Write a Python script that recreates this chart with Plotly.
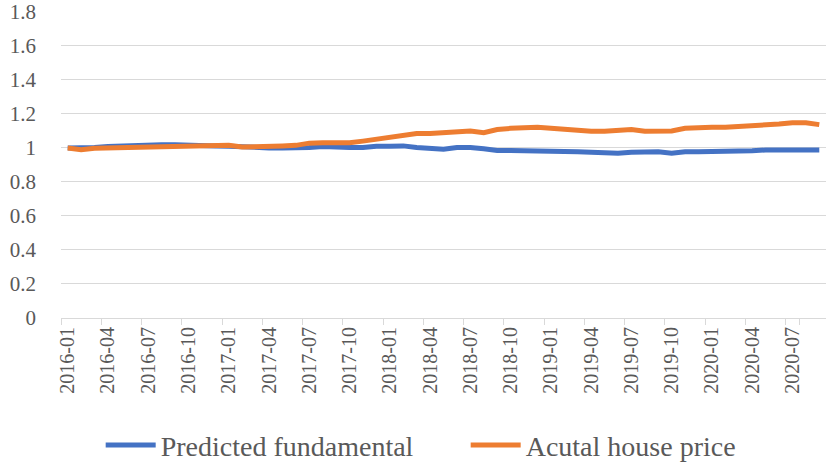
import plotly.graph_objects as go

months = [f"{y}-{m:02d}" for y in range(2016, 2021) for m in range(1, 13)][:57]

predicted = [1.000, 1.000, 1.002, 1.008, 1.012, 1.015, 1.018, 1.018, 1.018, 1.018,
             1.015, 1.012, 1.010, 1.005, 1.000, 1.000, 1.000, 1.000, 1.002, 1.008,
             1.002, 1.002, 1.002, 1.010, 1.010, 1.012, 1.002, 1.000, 0.992, 1.003,
             1.003, 0.995, 0.985, 0.985, 0.985, 0.985, 0.985, 0.985, 0.978, 0.975,
             0.968, 0.968, 0.975, 0.978, 0.978, 0.969, 0.978, 0.978, 0.978, 0.978,
             0.978, 0.983, 0.988, 0.988, 0.988, 0.988, 0.988]

actual = [1.000, 0.990, 0.998, 1.000, 1.000, 1.008, 1.010, 1.010, 1.010, 1.012,
          1.015, 1.018, 1.015, 1.005, 1.005, 1.005, 1.012, 1.015, 1.028, 1.030,
          1.030, 1.030, 1.040, 1.050, 1.060, 1.068, 1.085, 1.085, 1.092, 1.095,
          1.100, 1.090, 1.108, 1.115, 1.122, 1.122, 1.115, 1.108, 1.108, 1.098,
          1.098, 1.100, 1.108, 1.098, 1.098, 1.100, 1.115, 1.122, 1.122, 1.122,
          1.125, 1.135, 1.138, 1.140, 1.148, 1.148, 1.137]

tick_labels = months[::3]
y_ticks = [0, 0.2, 0.4, 0.6, 0.8, 1, 1.2, 1.4, 1.6, 1.8]

FONT = "Liberation Serif, Times New Roman, serif"
GREY = "#595959"
GRID = "#D9D9D9"

fig = go.Figure()
fig.add_trace(go.Scatter(x=months, y=predicted, mode="lines", name="Predicted fundamental",
                         line=dict(color="#4472C4", width=5)))
fig.add_trace(go.Scatter(x=months, y=actual, mode="lines", name="Acutal house price",
                         line=dict(color="#ED7D31", width=5)))

fig.update_layout(
    width=827, height=462,
    margin=dict(l=61, r=1, t=11, b=144, autoexpand=False),
    paper_bgcolor="white", plot_bgcolor="white",
    font=dict(family=FONT, color=GREY, size=21),
    showlegend=True,
    legend=dict(orientation="h", x=0.529, xanchor="center", y=-0.415, yanchor="middle",
                font=dict(family=FONT, size=28, color=GREY), itemwidth=50,
                entrywidth=300, entrywidthmode="pixels",
                bgcolor="rgba(0,0,0,0)"),
)
fig.update_xaxes(
    type="category", categoryorder="array", categoryarray=months,
    tickmode="array", tickvals=tick_labels, ticktext=tick_labels,
    tickson="boundaries", ticks="outside", ticklen=6, tickcolor=GRID,
    tickangle=-90, tickfont=dict(family=FONT, size=20, color=GREY),
    showgrid=False, showline=True, linecolor=GRID, linewidth=1,
    range=[-0.5, 56.5], zeroline=False, automargin=False,
)
fig.update_yaxes(
    range=[0, 1.805], tickmode="array", tickvals=y_ticks,
    ticktext=[f"{v:g}" for v in y_ticks],
    showgrid=True, gridcolor=GRID, gridwidth=1, zeroline=False,
    showline=False, ticks="", ticklabelstandoff=24, automargin=False,
    ticklabeloverflow="allow",
    tickfont=dict(family=FONT, size=21, color=GREY),
)

fig.write_html("out.html")
